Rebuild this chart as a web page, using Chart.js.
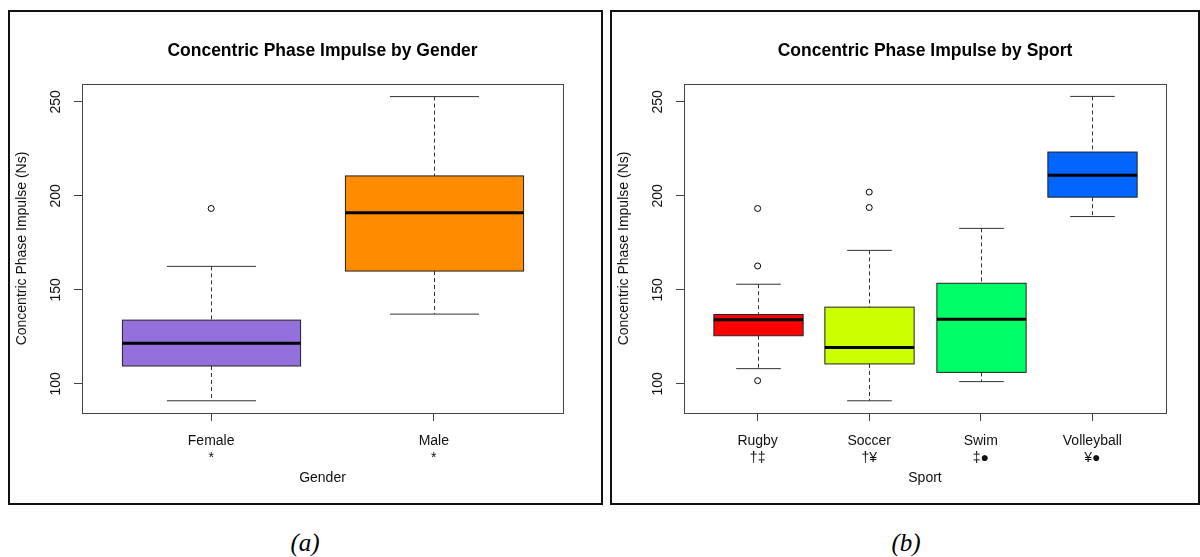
<!DOCTYPE html>
<html>
<head>
<meta charset="utf-8">
<script src="https://cdn.jsdelivr.net/npm/chart.js@4.4.1/dist/chart.umd.min.js"></script>
<style>
  html, body { margin: 0; padding: 0; background: #fff; }
  #page { position: relative; width: 1200px; height: 557px; overflow: hidden; background: #fff; }
  .panel { position: absolute; top: 10px; height: 491px; border: 2px solid #111; }
  #panelA { left: 8px; width: 591px; }
  #panelB { left: 610px; width: 586px; }
  .panel canvas { display: block; }
  .caption {
    position: absolute; top: 528px; line-height: 30px;
    font-family: "Liberation Serif", "Times New Roman", serif;
    font-style: italic; font-size: 25px; color: #000;
    transform: translateX(-50%);
  }
</style>
</head>
<body>
<div id="page">
  <div class="panel" id="panelA"><canvas id="chartA" width="591" height="491"></canvas></div>
  <div class="panel" id="panelB"><canvas id="chartB" width="586" height="491"></canvas></div>
  <div class="caption" style="left:305px">(a)</div>
  <div class="caption" style="left:906px">(b)</div>
</div>
<script>
// panel (a): by gender
const genderCats = ["Female", "Male"];
const genderMarks = ["*", "*"];
const genderLow = [91, 137.1];
const genderQ1 = [109.5, 160];
const genderMed = [121.6, 191];
const genderQ3 = [133.9, 210.6];
const genderHigh = [162.5, 252.8];
const genderOut = [[193.3], []];
const genderColors = ["#9370DB", "#FF8C00"];

// panel (b): by sport
const sportCats = ["Rugby", "Soccer", "Swim", "Volleyball"];
const sportMarks = ["\u2020\u2021", "\u2020\u00A5", "\u2021\u25CF", "\u00A5\u25CF"];
const sportLow = [108.1, 91, 101.2, 189];
const sportQ1 = [125.6, 110.6, 106.1, 199.3];
const sportMed = [134.1, 119.4, 134.4, 210.9];
const sportQ3 = [136.9, 140.8, 153.5, 223.3];
const sportHigh = [153, 171, 182.7, 252.9];
const sportOut = [[193.3, 162.7, 101.7], [202, 193.8], [], []];
const sportColors = ["#FF0000", "#CCFF00", "#00FF66", "#0066FF"];

const yTicks = [100, 150, 200, 250];
const yMin = 84.5;
const yMax = 259.5;
const yTitle = "Concentric Phase Impulse (Ns)";

const FONT = "'Liberation Sans', Arial, sans-serif";

function line(ctx, x1, y1, x2, y2) {
    ctx.beginPath();
    ctx.moveTo(x1, y1);
    ctx.lineTo(x2, y2);
    ctx.stroke();
}

// draws boxes/whiskers behind the outlier points, frame + rotated y labels on top
function boxPlugin(st) {
    return {
        id: "boxes",
        beforeDatasetsDraw(chart) {
            const { ctx, chartArea: a, scales: { x, y } } = chart;
            ctx.save();
            ctx.beginPath();
            ctx.rect(a.left, a.top, a.width, a.height);
            ctx.clip();
            st.low.forEach((_, i) => {
                const cx = Math.round(x.getPixelForValue(i + 1)) + 0.5;
                const hw = x.getPixelForValue(i + 1.4) - x.getPixelForValue(i + 1);
                const cw = hw / 2;
                const yLo = y.getPixelForValue(st.low[i]);
                const yQ1 = y.getPixelForValue(st.q1[i]);
                const yMd = y.getPixelForValue(st.med[i]);
                const yQ3 = y.getPixelForValue(st.q3[i]);
                const yHi = y.getPixelForValue(st.high[i]);

                ctx.strokeStyle = "#333";
                ctx.lineWidth = 1;
                ctx.setLineDash([4, 3]);
                line(ctx, cx, yHi, cx, yQ3);
                line(ctx, cx, yQ1, cx, yLo);
                ctx.setLineDash([]);
                line(ctx, cx - cw, yHi, cx + cw, yHi);
                line(ctx, cx - cw, yLo, cx + cw, yLo);

                ctx.fillStyle = st.colors[i];
                ctx.fillRect(cx - hw, yQ3, hw * 2, yQ1 - yQ3);
                ctx.strokeStyle = "#222";
                ctx.strokeRect(cx - hw, yQ3, hw * 2, yQ1 - yQ3);

                ctx.strokeStyle = "#000";
                ctx.lineWidth = 3;
                line(ctx, cx - hw, yMd, cx + hw, yMd);
            });
            ctx.restore();
        },
        afterDraw(chart) {
            const { ctx, chartArea: a, scales: { y } } = chart;
            ctx.save();
            ctx.strokeStyle = "#444";
            ctx.lineWidth = 1;
            ctx.strokeRect(a.left + 0.5, a.top + 0.5, a.width, a.height);
            ctx.fillStyle = "#111";
            ctx.font = "14px " + FONT;
            ctx.textAlign = "center";
            ctx.textBaseline = "middle";
            yTicks.forEach(v => {
                ctx.save();
                ctx.translate(a.left - 26, y.getPixelForValue(v));
                ctx.rotate(-Math.PI / 2);
                ctx.fillText(String(v), 0, 0);
                ctx.restore();
            });
            ctx.restore();
        }
    };
}

function makeChart(id, title, xTitle, cats, marks, st, outs, padRight) {
    const n = cats.length;
    const points = [];
    outs.forEach((list, i) => list.forEach(v => points.push({ x: i + 1, y: v })));

    return new Chart(document.getElementById(id), {
        type: "scatter",
        data: {
            datasets: [{
                data: points,
                pointRadius: 3,
                pointHoverRadius: 3,
                pointBackgroundColor: "#fff",
                pointBorderColor: "#000",
                pointBorderWidth: 1
            }]
        },
        options: {
            responsive: false,
            animation: false,
            devicePixelRatio: 1,
            events: [],
            layout: { padding: { left: 0, right: padRight, top: 0, bottom: 0 } },
            plugins: {
                legend: { display: false },
                tooltip: { enabled: false },
                title: {
                    display: true,
                    text: title,
                    fullSize: false,
                    color: "#000",
                    font: { family: FONT, size: 17.5, weight: "bold", lineHeight: 1.2 },
                    padding: { top: 29, bottom: 22 }
                }
            },
            scales: {
                x: {
                    type: "linear",
                    min: 0.5 - 0.04 * n,
                    max: n + 0.5 + 0.04 * n,
                    afterBuildTicks: s => { s.ticks = cats.map((c, i) => ({ value: i + 1 })); },
                    afterFit: s => { s.height = 90; },
                    grid: { drawOnChartArea: false, drawTicks: true, tickLength: 8, color: "#444" },
                    border: { display: false },
                    ticks: {
                        color: "#111",
                        font: { family: FONT, size: 14, lineHeight: 1.2 },
                        padding: 12,
                        maxRotation: 0,
                        autoSkip: false,
                        callback: (v, i) => [cats[i], marks[i]]
                    },
                    title: {
                        display: true,
                        text: xTitle,
                        color: "#111",
                        font: { family: FONT, size: 14, lineHeight: 1.2 },
                        padding: { top: 0, bottom: 16.5 }
                    }
                },
                y: {
                    min: yMin,
                    max: yMax,
                    afterBuildTicks: s => { s.ticks = yTicks.map(v => ({ value: v })); },
                    afterFit: s => { s.width = 72; },
                    grid: { drawOnChartArea: false, drawTicks: true, tickLength: 8, color: "#444" },
                    border: { display: false },
                    ticks: { display: false },
                    title: {
                        display: true,
                        text: yTitle,
                        color: "#111",
                        font: { family: FONT, size: 14, lineHeight: 1.2 },
                        padding: { top: 3.5, bottom: 0 }
                    }
                }
            }
        },
        plugins: [boxPlugin(st)]
    });
}

makeChart("chartA", "Concentric Phase Impulse by Gender", "Gender", genderCats, genderMarks,
    { low: genderLow, q1: genderQ1, med: genderMed, q3: genderQ3, high: genderHigh, colors: genderColors },
    genderOut, 38);

makeChart("chartB", "Concentric Phase Impulse by Sport", "Sport", sportCats, sportMarks,
    { low: sportLow, q1: sportQ1, med: sportMed, q3: sportQ3, high: sportHigh, colors: sportColors },
    sportOut, 32);
</script>
</body>
</html>
